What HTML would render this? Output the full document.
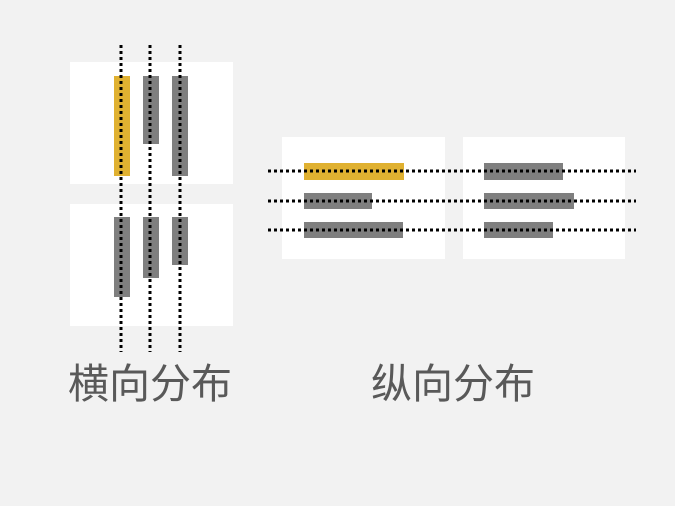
<!DOCTYPE html>
<html><head><meta charset="utf-8"><style>
body{margin:0;width:675px;height:506px;background:#f2f2f2;position:relative;overflow:hidden;font-family:"Liberation Sans","Noto Sans CJK SC",sans-serif}
div{position:absolute}
.w{background:#fff}
.g{background:#7f7f7f}
.y{background:#e0b131}
.t{font-size:41px;color:#595959;line-height:1;white-space:nowrap}
</style></head><body>
<div class="w" style="left:70px;top:62px;width:163px;height:122px"></div>
<div class="w" style="left:70px;top:204px;width:163px;height:122px"></div>
<div class="y" style="left:114px;top:76px;width:16px;height:100px"></div>
<div class="g" style="left:143px;top:76px;width:16px;height:68px"></div>
<div class="g" style="left:172px;top:76px;width:16px;height:100px"></div>
<div class="g" style="left:114px;top:217px;width:16px;height:80px"></div>
<div class="g" style="left:143px;top:217px;width:16px;height:61px"></div>
<div class="g" style="left:172px;top:217px;width:16px;height:48px"></div>
<div class="w" style="left:282px;top:137px;width:163px;height:122px"></div>
<div class="w" style="left:463px;top:137px;width:162px;height:122px"></div>
<div class="y" style="left:304px;top:163px;width:100px;height:17px"></div>
<div class="g" style="left:304px;top:193px;width:68px;height:16px"></div>
<div class="g" style="left:304px;top:222px;width:99px;height:16px"></div>
<div class="g" style="left:484px;top:163px;width:79px;height:17px"></div>
<div class="g" style="left:484px;top:193px;width:90px;height:16px"></div>
<div class="g" style="left:484px;top:222px;width:69px;height:16px"></div>
<svg width="675" height="506" style="position:absolute;left:0;top:0">
<g stroke="#000" stroke-width="3" stroke-dasharray="3 3">
<line x1="121" y1="45" x2="121" y2="352"/>
<line x1="150" y1="45" x2="150" y2="352"/>
<line x1="180" y1="45" x2="180" y2="352"/>
<line x1="268" y1="171" x2="636" y2="171"/>
<line x1="268" y1="201" x2="636" y2="201"/>
<line x1="268" y1="230" x2="636" y2="230"/>
</g></svg>
<div class="t" style="left:68px;top:364px">横向分布</div>
<div class="t" style="left:371px;top:364px">纵向分布</div>
</body></html>
